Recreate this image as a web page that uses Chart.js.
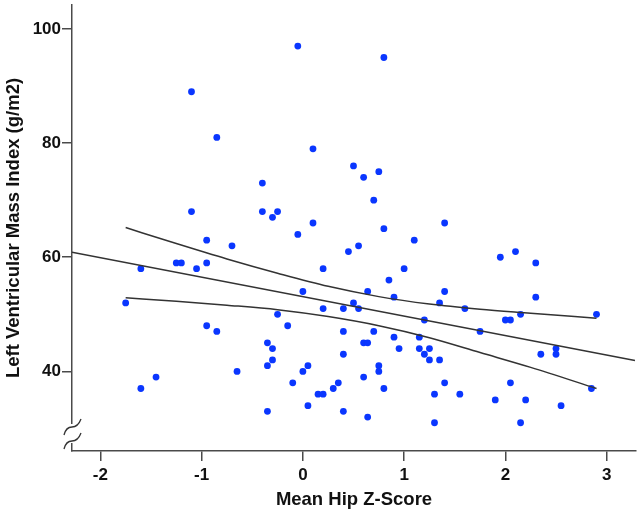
<!DOCTYPE html>
<html>
<head>
<meta charset="utf-8">
<script src="https://cdn.jsdelivr.net/npm/chart.js@4.4.1/dist/chart.umd.min.js"></script>
<style>
  html, body { margin: 0; padding: 0; background: #ffffff; }
  #wrap { width: 642px; height: 513px; position: relative; }
</style>
</head>
<body>
<div id="wrap"><canvas id="c" width="642" height="513"></canvas></div>
<script>
// ---- Data ----
const hipZ = [
  -0.05, -1.10, -0.85, 0.10, 0.50, 0.60, -0.40, -1.10, -0.40, -0.25,
  -0.30, 0.80, 0.75, 0.70, 0.10, -0.05, -0.95, -0.70, 0.45, 0.55,
  -1.25, -1.20, -0.95, -1.60, -1.05, 0.20, 0.00, 0.64, -1.75, 0.50,
  0.20, 0.40, 0.55, -0.25, -0.95, -0.85, -0.15, 0.40, -0.35, -0.30,
  0.60, 0.64, 0.40, -0.30, -0.35, 0.05, 0.00, -0.65, 0.60, -1.45,
  -1.60, -0.10, 0.35, 0.30, 0.15, 0.20, 0.05, -0.35, 0.40, 0.64,
  1.40, 0.80, 1.10, 1.95, 2.10, 2.30, 1.00, 0.85, 1.40, 2.30,
  0.90, 1.35, 1.60, 2.15, 2.90, 2.00, 2.05, 1.20, 1.75, 0.70,
  0.90, 1.15, 0.95, 1.15, 1.25, 1.20, 1.25, 1.35, 2.35, 2.50,
  2.50, 0.75, 0.75, 0.80, 1.40, 1.30, 1.55, 2.05, 1.90, 2.20,
  2.55, 2.85, 1.30, 2.15
];
const lvmi = [
  97, 89, 81, 79, 76, 74, 73, 68, 68, 68,
  67, 95, 75, 70, 66, 64, 63, 62, 61, 62,
  59, 59, 59, 58, 58, 58, 54, 54, 52, 52,
  51, 51, 51, 50, 48, 47, 48, 47, 45, 44,
  45, 45, 43, 42, 41, 41, 40, 40, 39, 39,
  37, 38, 38, 37, 36, 36, 34, 33, 33, 32,
  66, 65, 63, 60, 61, 59, 58, 56, 54, 53,
  53, 52, 51, 50, 50, 49, 49, 49, 47, 47,
  46, 46, 44, 44, 44, 43, 42, 42, 43, 44,
  43, 41, 40, 37, 38, 36, 36, 38, 35, 35,
  34, 37, 31, 31
];
// fitted line (ends at the axis limits)
const fitX = [-2.28, 3.28];
const fitY = [60.9, 41.9];
// 95% confidence band
const bandX = [-1.75, -1.25, -0.75, -0.25, 0.25, 0.75, 1.25, 1.75, 2.25, 2.90];
const bandUpper = [65.2, 62.4, 59.7, 57.2, 54.9, 53.1, 51.8, 50.9, 50.2, 49.3];
const bandLower = [52.9, 52.3, 51.6, 50.8, 49.6, 48.0, 45.9, 43.3, 40.7, 37.0];
// axes
const xTicks = [-2, -1, 0, 1, 2, 3];
const yTicks = [40, 60, 80, 100];
const xLabel = 'Mean Hip Z-Score';
const yLabel = 'Left Ventricular Mass Index (g/m2)';

const pts = hipZ.map((x, i) => ({ x: x, y: lvmi[i] }));
const line = (xs, ys) => xs.map((x, i) => ({ x: x, y: ys[i] }));

const AXIS_COLOR = '#4a4a4a';
const FONT = 'Liberation Sans, Arial, Helvetica, sans-serif';

const axisBreak = {
  id: 'axisBreak',
  afterDraw(chart) {
    const { ctx, chartArea } = chart;
    const l = chartArea.left, b = chartArea.bottom;
    ctx.save();
    ctx.fillStyle = '#ffffff';
    ctx.fillRect(l - 2, b - 27, 4, 19);
    ctx.strokeStyle = '#333333';
    ctx.lineWidth = 1.3;
    const s = (cy) => {
      ctx.beginPath();
      ctx.moveTo(l - 8, cy + 8);
      ctx.quadraticCurveTo(l - 6, cy, l, cy);
      ctx.quadraticCurveTo(l + 6, cy, l + 9, cy - 8);
      ctx.stroke();
    };
    s(b - 24);
    s(b - 10);
    ctx.restore();
  }
};

new Chart(document.getElementById('c'), {
  type: 'scatter',
  data: {
    datasets: [
      {
        type: 'line', data: line(fitX, fitY), borderColor: '#333333', borderWidth: 1.5,
        pointRadius: 0, fill: false, order: 0
      },
      {
        type: 'line', data: line(bandX, bandUpper), borderColor: '#333333', borderWidth: 1.5,
        pointRadius: 0, fill: false, cubicInterpolationMode: 'monotone', order: 0
      },
      {
        type: 'line', data: line(bandX, bandLower), borderColor: '#333333', borderWidth: 1.5,
        pointRadius: 0, fill: false, cubicInterpolationMode: 'monotone', order: 0
      },
      {
        data: pts, backgroundColor: '#0a36ff', borderWidth: 0, pointRadius: 3.4,
        order: 1
      }
    ]
  },
  options: {
    responsive: false,
    animation: false,
    layout: { padding: { top: 5, right: 6, left: 0, bottom: 0 } },
    plugins: { legend: { display: false }, tooltip: { enabled: false } },
    scales: {
      x: {
        type: 'linear', min: -2.28, max: 3.29,
        afterBuildTicks: (s) => { s.ticks = xTicks.map(v => ({ value: v })); },
        afterFit: (s) => { s.height = 62; s.paddingLeft = 0; s.paddingRight = 0; },
        grid: { drawOnChartArea: false, drawTicks: true, tickLength: 10, color: AXIS_COLOR, lineWidth: 1.5 },
        border: { display: true, color: AXIS_COLOR, width: 1.5 },
        ticks: {
          color: '#111111', padding: 4,
          font: { family: FONT, size: 17, weight: 'bold' },
          callback: (v) => String(v)
        },
        title: {
          display: true, text: xLabel, color: '#111111',
          font: { family: FONT, size: 18.5, weight: 'bold', lineHeight: 1 },
          padding: { top: 0, bottom: 4 }
        }
      },
      y: {
        type: 'linear', min: 26.05, max: 104.2,
        afterBuildTicks: (s) => { s.ticks = yTicks.map(v => ({ value: v })); },
        afterFit: (s) => { s.width = 72; s.paddingTop = 0; s.paddingBottom = 0; },
        grid: { drawOnChartArea: false, drawTicks: true, tickLength: 10, color: AXIS_COLOR, lineWidth: 1.5 },
        border: { display: true, color: AXIS_COLOR, width: 1.5 },
        ticks: {
          color: '#111111', padding: 1,
          font: { family: FONT, size: 17, weight: 'bold' },
          callback: (v) => String(v)
        },
        title: {
          display: true, text: yLabel, color: '#111111',
          font: { family: FONT, size: 18.5, weight: 'bold', lineHeight: 1 },
          padding: { top: 5, bottom: 0 }
        }
      }
    }
  },
  plugins: [axisBreak]
});
</script>
</body>
</html>
